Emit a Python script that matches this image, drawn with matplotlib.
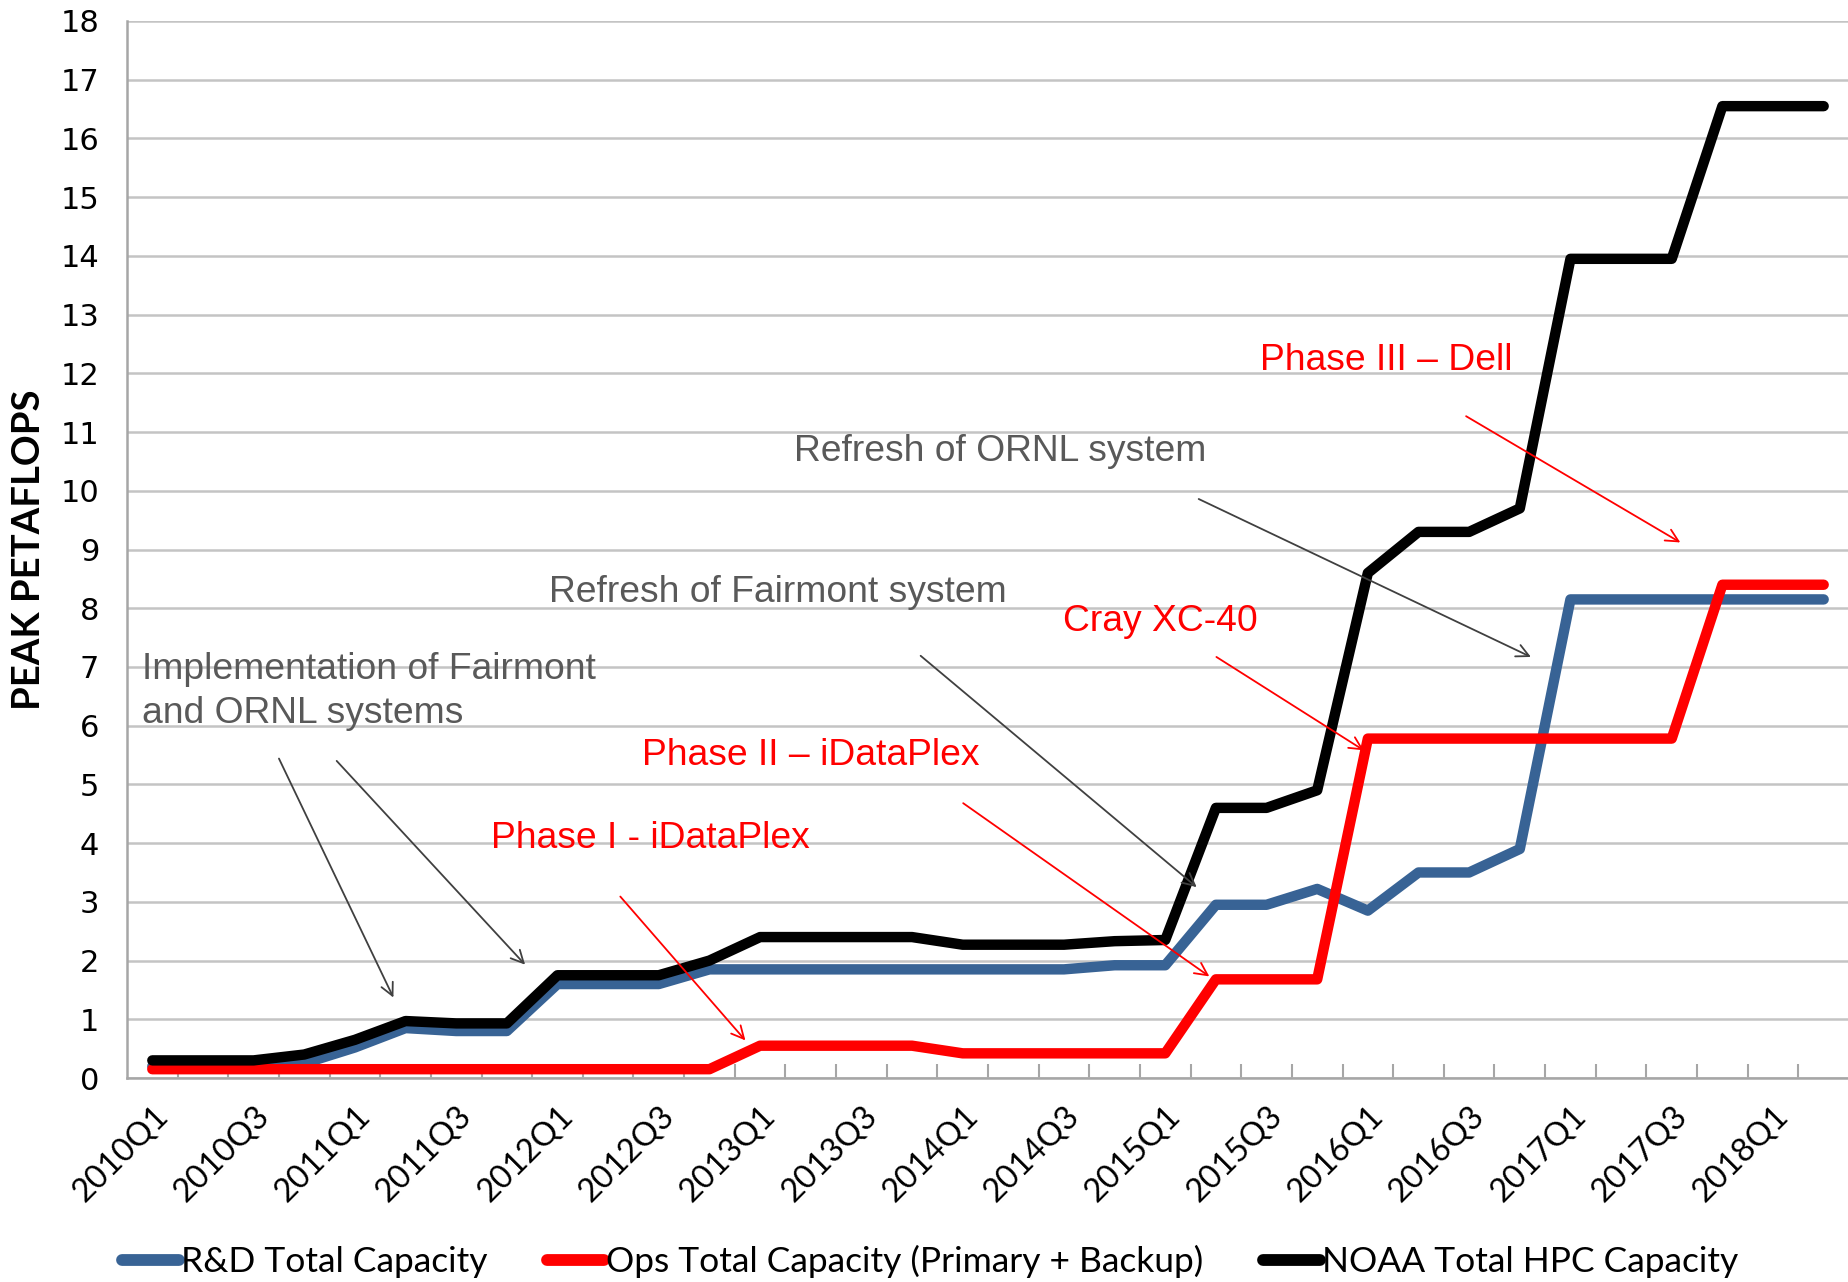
import matplotlib
matplotlib.use("Agg")
import matplotlib.pyplot as plt
from matplotlib.ticker import MultipleLocator, FixedLocator

# ----------------------------------------------------------------------
# Data (peak petaflops per quarter)
# ----------------------------------------------------------------------
quarters = [f"{y}Q{q}" for y in range(2010, 2019) for q in range(1, 5)][:34]

rd_capacity = [0.2, 0.2, 0.2, 0.25, 0.52, 0.85, 0.8, 0.8,
               1.6, 1.6, 1.6, 1.85, 1.85, 1.85, 1.85, 1.85,
               1.85, 1.85, 1.85, 1.92, 1.92, 2.95, 2.95, 3.22,
               2.85, 3.5, 3.5, 3.9, 8.15, 8.15, 8.15, 8.15,
               8.15, 8.15]

ops_capacity = [0.15, 0.15, 0.15, 0.15, 0.15, 0.15, 0.15, 0.15,
                0.15, 0.15, 0.15, 0.15, 0.55, 0.55, 0.55, 0.55,
                0.42, 0.42, 0.42, 0.42, 0.42, 1.68, 1.68, 1.68,
                5.78, 5.78, 5.78, 5.78, 5.78, 5.78, 5.78, 8.4,
                8.4, 8.4]

noaa_capacity = [0.3, 0.3, 0.3, 0.4, 0.65, 0.97, 0.93, 0.93,
                 1.75, 1.75, 1.75, 2.0, 2.4, 2.4, 2.4, 2.4,
                 2.27, 2.27, 2.27, 2.33, 2.35, 4.6, 4.6, 4.9,
                 8.6, 9.3, 9.3, 9.7, 13.95, 13.95, 13.95, 16.55,
                 16.55, 16.55]

series_names = ["R&D Total Capacity",
                "Ops Total Capacity (Primary + Backup)",
                "NOAA Total HPC Capacity"]

# annotations: (text, colour, text x, text y, arrows [(x0, y0, x1, y1), ...])
GRAY = "#595959"
annotations = [
    ("Implementation of Fairmont\nand ORNL systems", GRAY, -0.2, 6.58,
     [(2.5, 5.44, 4.76, 1.37), (3.64, 5.40, 7.36, 1.93)]),
    ("Refresh of Fairmont system", GRAY, 7.83, 8.26,
     [(15.17, 7.19, 20.62, 3.25)]),
    ("Refresh of ORNL system", GRAY, 12.66, 10.67,
     [(20.66, 9.86, 27.22, 7.17)]),
    ("Phase III \u2013 Dell", "red", 21.87, 12.22,
     [(25.94, 11.27, 30.17, 9.12)]),
    ("Cray XC-40", "red", 17.99, 7.77,
     [(21.01, 7.17, 23.92, 5.58)]),
    ("Phase II \u2013 iDataPlex", "red", 9.66, 5.5,
     [(16.01, 4.68, 20.87, 1.73)]),
    ("Phase I - iDataPlex", "red", 6.69, 4.08,
     [(9.24, 3.09, 11.71, 0.64)]),
]

COLORS = ["#386395", "#FF0000", "#000000"]

fig = plt.figure(figsize=(18.49, 12.82), dpi=100)
ax = fig.add_axes([127 / 1849, 1 - 1078 / 1282, 1 - 127 / 1849, (1078 - 21) / 1282])

x = list(range(len(quarters)))
for vals, col, name in zip([rd_capacity, ops_capacity, noaa_capacity], COLORS, series_names):
    ax.plot(x, vals, color=col, lw=7.5, label=name,
            solid_capstyle="round", solid_joinstyle="round", zorder=3)

ax.set_xlim(-0.5, len(quarters) - 0.5)
ax.set_ylim(0, 18)
ax.yaxis.set_major_locator(MultipleLocator(1))
ax.grid(axis="y", color="#C4C4C4", lw=1.8, zorder=0)
ax.set_axisbelow(True)

for side in ["top", "right"]:
    ax.spines[side].set_visible(False)
for side in ["left", "bottom"]:
    ax.spines[side].set_color("#A6A6A6")
    ax.spines[side].set_linewidth(1.8)

# y ticks
ax.tick_params(axis="y", length=0, pad=20, labelsize=22, labelcolor="black")
for lbl in ax.get_yticklabels():
    lbl.set_fontfamily("DejaVu Sans")

# x ticks: labels every other quarter, tick marks at category boundaries
ax.xaxis.set_major_locator(FixedLocator(x[::2]))
ax.set_xticklabels(quarters[::2], rotation=45, ha="right", va="top",
                   rotation_mode="anchor", fontsize=23.5, fontfamily="Lato")
ax.tick_params(axis="x", which="major", length=0, pad=16)
ax.xaxis.set_minor_locator(FixedLocator([i - 0.5 for i in range(1, len(quarters))]))
ax.tick_params(axis="x", which="minor", direction="in", length=10,
               width=1.5, color="#A6A6A6")

ax.set_ylabel("PEAK PETAFLOPS", fontsize=27.5, fontweight="bold",
              fontfamily="Lato")
ax.yaxis.set_label_coords(-0.047, 0.5)

for text, col, tx, ty, arrows in annotations:
    ax.text(tx, ty, text, color=col, fontsize=26.8, fontfamily="Liberation Sans",
            ha="left", va="center", linespacing=1.32, zorder=4)
    for x0, y0, x1, y1 in arrows:
        ax.annotate("", xy=(x1, y1), xytext=(x0, y0),
                    arrowprops=dict(arrowstyle="->,head_length=0.9,head_width=0.45",
                                    color="#404040" if col == GRAY else col,
                                    lw=1.3, shrinkA=0, shrinkB=0),
                    zorder=4)

leg = fig.legend(loc="center", bbox_to_anchor=(0.503, 0.016), ncol=3,
                 frameon=False, handlelength=1.6, handletextpad=0.05,
                 columnspacing=1.7, prop={"family": "Lato", "size": 25.5})
for h in leg.get_lines():
    h.set_linewidth(8.5)
    h.set_solid_capstyle("round")

fig.savefig("out.png", dpi=100)
